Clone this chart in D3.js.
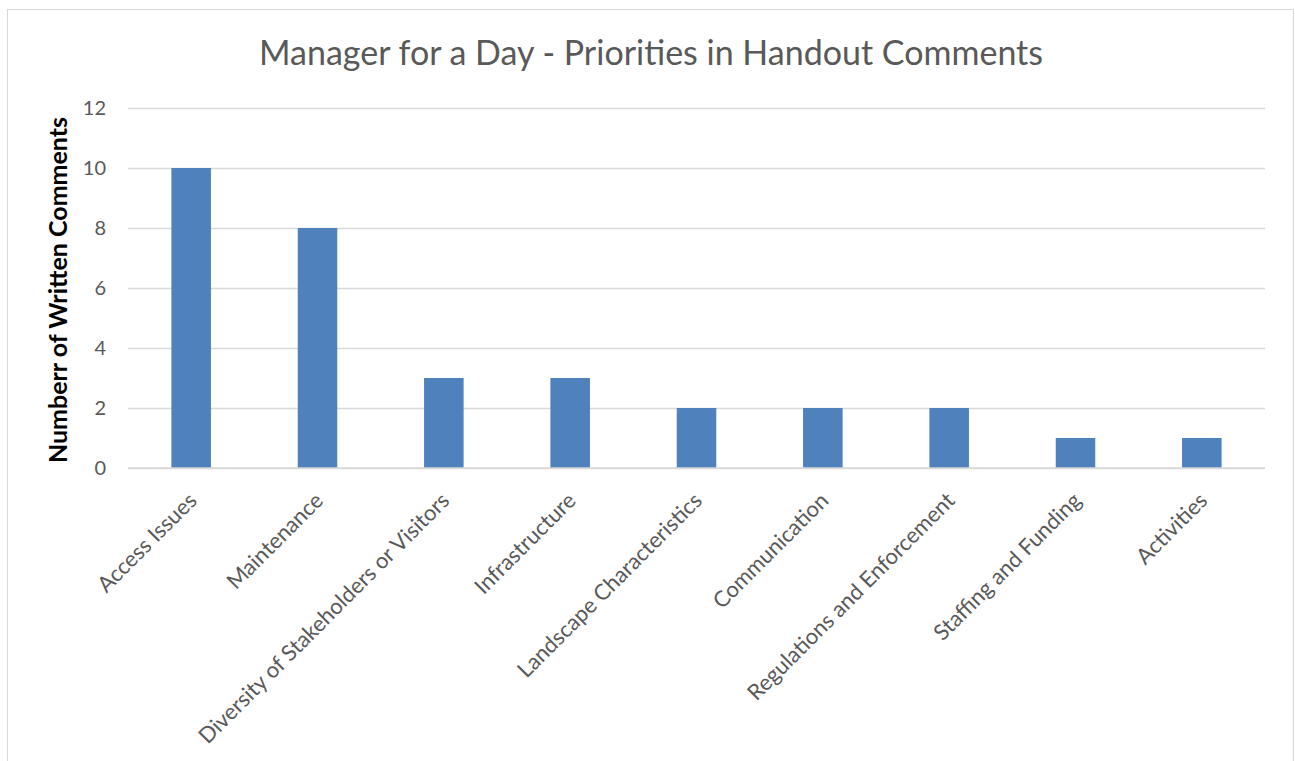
<!DOCTYPE html>
<html>
<head>
<meta charset="utf-8">
<script src="https://cdn.jsdelivr.net/npm/d3@7"></script>
<style>
  html, body { margin: 0; padding: 0; background: #ffffff; }
  svg { display: block; }
  text { font-family: Lato, "Liberation Sans", sans-serif; }
</style>
</head>
<body>
<svg id="chart" width="1295" height="761"></svg>
<script>
// Handout comment counts by priority theme
const categories = [
  "Access Issues",
  "Maintenance",
  "Diversity of Stakeholders or Visitors",
  "Infrastructure",
  "Landscape Characteristics",
  "Communication",
  "Regulations and Enforcement",
  "Staffing and Funding",
  "Activities"
];
const commentCounts = [10, 8, 3, 3, 2, 2, 2, 1, 1];
const yTicks = [0, 2, 4, 6, 8, 10, 12];
const chartTitle = "Manager for a Day - Priorities in Handout Comments";
const yAxisTitle = "Numberr of Written Comments";

const W = 1295, H = 761;
const plot = { left: 128, right: 1265, top: 108, bottom: 468 };

const svg = d3.select("#chart");

// outer chart frame
svg.append("rect")
  .attr("x", 7.5).attr("y", 9.5)
  .attr("width", 1286).attr("height", 780)
  .attr("fill", "#ffffff")
  .attr("stroke", "#d9d9d9")
  .attr("stroke-width", 1);

const x = d3.scaleBand()
  .domain(categories)
  .range([plot.left, plot.right])
  .paddingInner(0.687)
  .paddingOuter(0.3435);

const y = d3.scaleLinear()
  .domain([0, 12])
  .range([plot.bottom, plot.top]);

// gridlines and value labels
const yAxis = d3.axisLeft(y)
  .tickValues(yTicks)
  .tickSize(-(plot.right - plot.left))
  .tickPadding(22)
  .tickFormat(d3.format("d"));

const yG = svg.append("g")
  .attr("transform", `translate(${plot.left},0)`)
  .call(yAxis);
yG.select(".domain").remove();
yG.selectAll(".tick line")
  .attr("stroke", "#d9d9d9")
  .attr("stroke-width", 1.3);
yG.selectAll(".tick text")
  .attr("fill", "#595959")
  .attr("font-size", 20);

// bars
svg.append("g")
  .selectAll("rect")
  .data(categories.map((c, i) => ({ c, v: commentCounts[i] })))
  .join("rect")
  .attr("x", d => x(d.c))
  .attr("y", d => y(d.v))
  .attr("width", x.bandwidth())
  .attr("height", d => y(0) - y(d.v))
  .attr("fill", "#4f81bd");

// category axis baseline
svg.append("line")
  .attr("x1", plot.left).attr("x2", plot.right)
  .attr("y1", y(0)).attr("y2", y(0))
  .attr("stroke", "#d9d9d9")
  .attr("stroke-width", 1.3);

// rotated category labels
svg.append("g")
  .selectAll("text")
  .data(categories)
  .join("text")
  .attr("transform", d => `translate(${x(d) + x.bandwidth() / 2 + 7},${plot.bottom + 34}) rotate(-45)`)
  .attr("text-anchor", "end")
  .attr("fill", "#595959")
  .attr("font-size", 22)
  .text(d => d);

// chart title
svg.append("text")
  .attr("x", 651)
  .attr("y", 65)
  .attr("text-anchor", "middle")
  .attr("fill", "#595959")
  .attr("font-size", 34)
  .text(chartTitle);

// value axis title
svg.append("text")
  .attr("transform", `translate(67,${(plot.top + plot.bottom) / 2 + 2}) rotate(-90)`)
  .attr("text-anchor", "middle")
  .attr("fill", "#000000")
  .attr("font-weight", "bold")
  .attr("font-size", 25)
  .text(yAxisTitle);
</script>
</body>
</html>
